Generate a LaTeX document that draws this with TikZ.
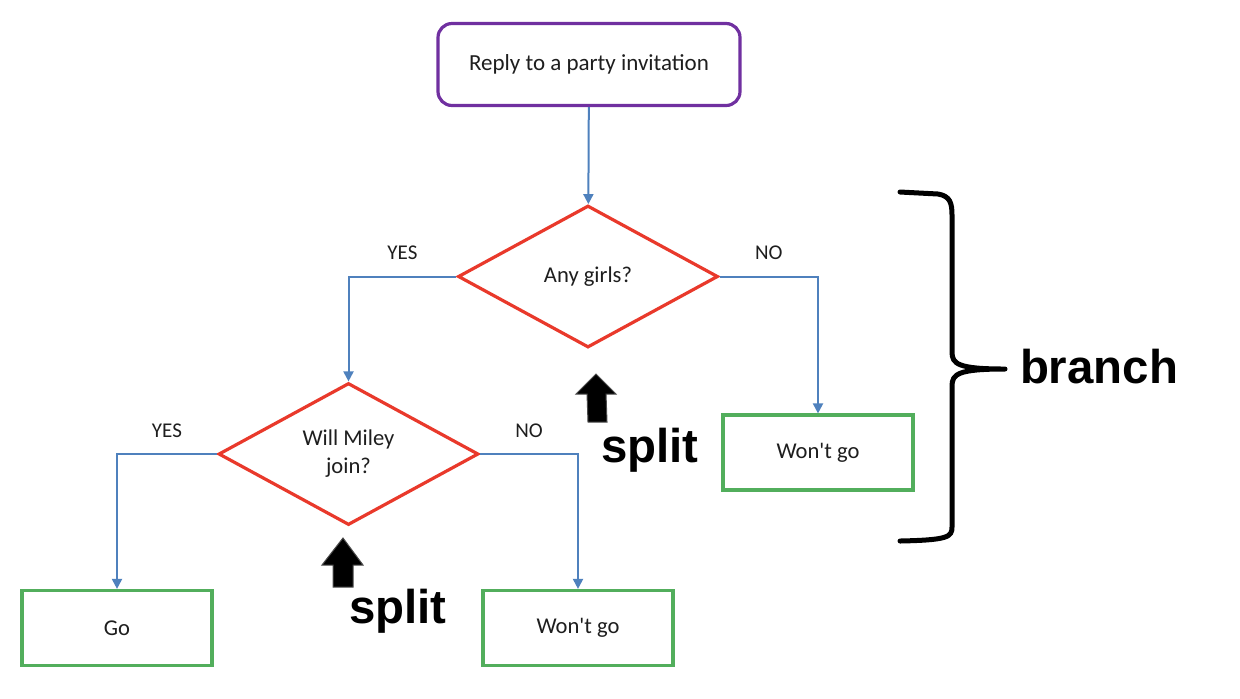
\documentclass[tikz,border=0pt]{standalone}
\usepackage{fontspec}
\setmainfont{Carlito}
\newfontfamily\notefont{Liberation Sans}
\usetikzlibrary{arrows.meta,shapes.geometric}

\definecolor{startpurple}{RGB}{112,48,160}
\definecolor{askred}{RGB}{233,57,43}
\definecolor{endgreen}{RGB}{82,174,92}
\definecolor{flowblue}{RGB}{79,129,189}
\definecolor{txtgray}{RGB}{30,30,30}

\tikzset{
  startbox/.style={draw=startpurple, line width=1.6pt, rounded corners=7pt, fill=white,
    minimum width=151pt, minimum height=41pt, inner sep=0.75pt, font=\fontsize{11.5}{13}\selectfont, text=txtgray},
  askbox/.style={diamond, draw=askred, line width=1.6pt, aspect=1.83, fill=white,
    minimum width=130pt, minimum height=71pt, inner sep=0.75pt, align=center,
    font=\fontsize{11.3}{14}\selectfont, text=txtgray},
  endbox/.style={draw=endgreen, line width=1.6pt, fill=white,
    minimum width=95pt, minimum height=37.5pt, inner sep=0.75pt, font=\fontsize{11.3}{13}\selectfont, text=txtgray},
  flow/.style={draw=flowblue, line width=1pt, -{Triangle[length=5pt,width=5pt]}},
  lbl/.style={inner sep=0.75pt, font=\fontsize{10.5}{12}\selectfont, text=txtgray},
  note/.style={inner sep=0pt, anchor=base, font=\notefont\bfseries\fontsize{23.7}{26}\selectfont},
}

\begin{document}
\begin{tikzpicture}[x=0.5pt,y=0.5pt,yscale=-1,xscale=1]
\useasboundingbox (0,0) rectangle (1240,698);

%Shape: Rounded Rectangle
\node (reply) at (589,64.5) [startbox] {Reply to a party invitation};
%Shape: Diamond
\node (girls) at (588,276.5) [askbox] {Any girls?};
%Shape: Diamond
\node (miley) at (348.5,454) [askbox] {Will Miley\\join?};
%Shape: Rectangle
\node (nogo1) at (818,452.5) [endbox] {Won\textquotesingle t go};
%Shape: Rectangle
\node (go) at (117,628) [endbox] {Go};
%Shape: Rectangle
\node (nogo2) at (578,628) [endbox] {Won\textquotesingle t go};

%Connectors
\draw [flow] (reply) -- (girls);
\draw [flow] (girls.west) -| node [pos=0.25, above=7pt, lbl] {YES} (miley.north);
\draw [flow] (girls.east) -| node [pos=0.25, above=7pt, lbl] {NO} (nogo1.north);
\draw [flow] (miley.west) -| node [pos=0.25, above=7pt, lbl] {YES} (go.north);
\draw [flow] (miley.east) -| node [pos=0.25, above=7pt, lbl] {NO} (nogo2.north);

%Shape: Up Arrow
\draw [fill=black, draw=black!70, line width=0.5pt] (596,374) -- (616,394) -- (606,394) -- (607,422) -- (588,422) -- (587,394) -- (576,394) -- cycle ;
%Shape: Up Arrow
\draw [fill=black, draw=black!70, line width=0.5pt] (343,538) -- (363,565) -- (353,565) -- (353,587) -- (333,587) -- (333,565) -- (322,565) -- cycle ;

% Text Node
\node (split1) at (650,462) [note] {split};
% Text Node
\node (split2) at (398,623) [note] {split};

%Shape: Brace
\draw [line width=2.5pt, line join=round, line cap=round] (900,192) -- (938,194) .. controls (950,196) and (952,203) .. (952,215) -- (952,352) .. controls (952,364) and (958,369) .. (1005,369) .. controls (958,369) and (952,374) .. (952,386) -- (952,527) .. controls (952,537) and (948,540) .. (900,541) ;

% Text Node
\node (branch) at (1099,383) [note] {branch};

\end{tikzpicture}
\end{document}
